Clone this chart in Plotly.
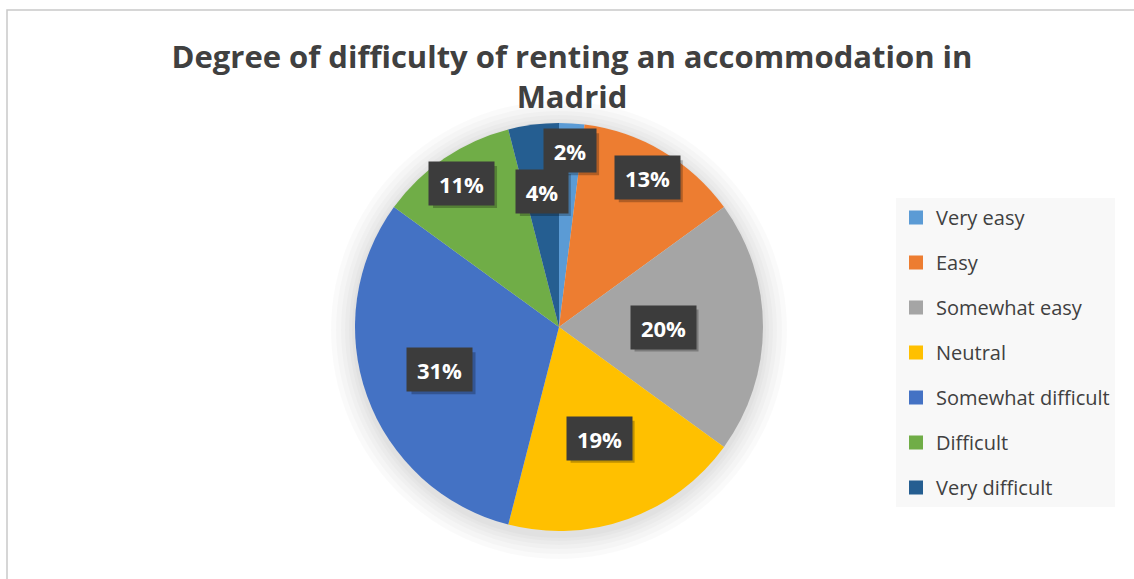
import math
import plotly.graph_objects as go

# ---- data ----
categories = ["Very easy", "Easy", "Somewhat easy", "Neutral",
              "Somewhat difficult", "Difficult", "Very difficult"]
percentages = [2, 13, 20, 19, 31, 11, 4]
colors = ["#5B9BD5", "#ED7D31", "#A5A5A5", "#FFC000",
          "#4472C4", "#70AD47", "#255E91"]
title_text = "Degree of difficulty of renting an accommodation in<br>Madrid"

# ---- layout constants (styling / placement) ----
W, H = 1134, 579
cx, cy, R = 559, 327, 204          # pie centre and radius in px
label_radius = [0.866, 0.85, 0.51, 0.58, 0.62, 0.85, 0.67]  # data label distance as fraction of R

fig = go.Figure()

fig.add_trace(go.Pie(
    labels=categories, values=percentages, sort=False, direction="clockwise",
    rotation=0, marker=dict(colors=colors, line=dict(width=0)),
    textinfo="none", hoverinfo="label+percent", showlegend=False,
    domain=dict(x=[(cx - R) / W, (cx + R) / W], y=[1 - (cy + R) / H, 1 - (cy - R) / H]),
))

# legend via dummy traces (to get Excel-like spacing)
for cat, col in zip(categories, colors):
    fig.add_trace(go.Scatter(
        x=[None], y=[None], mode="markers", name=cat, legendgroup=cat,
        marker=dict(symbol="square", size=14, color=col), showlegend=True,
    ))

# data labels: dark boxes at angle derived from cumulative values
total = sum(percentages)
cum = 0
annotations = []
shapes = []
for v, rf in zip(percentages, label_radius):
    mid = (cum + v / 2) / total * 2 * math.pi
    cum += v
    px = cx + rf * R * math.sin(mid)
    py = cy - rf * R * math.cos(mid)
    txt = f"{round(v / total * 100)}%"
    w = 50 if len(txt) == 2 else 63
    # drop shadow as a shape
    shapes.append(dict(type="rect", xref="paper", yref="paper", layer="above",
                       x0=(px - w / 2 + 3) / W, x1=(px + w / 2 + 4) / W,
                       y0=1 - (py + 41 / 2 + 4) / H, y1=1 - (py - 41 / 2 + 3) / H,
                       fillcolor="rgba(0,0,0,0.25)", line=dict(width=0)))
    annotations.append(dict(xref="paper", yref="paper", x=px / W, y=1 - py / H,
                            xanchor="center", yanchor="middle", showarrow=False,
                            width=w, height=41, text=txt, bgcolor="#3C3C3C",
                            font=dict(family="Open Sans", size=22, color="white", weight="bold")))

# soft glow around pie
for g in [24, 19, 14, 10, 6, 3]:
    r = R + g
    shapes.append(dict(type="circle", xref="paper", yref="paper", layer="below",
                       x0=(cx - r) / W, x1=(cx + r) / W,
                       y0=1 - (cy + r + 4) / H, y1=1 - (cy - r + 2) / H,
                       fillcolor="rgba(0,0,0,0.018)", line=dict(width=0)))
# chart border
shapes.append(dict(type="rect", xref="paper", yref="paper", layer="above",
                   x0=7 / W, x1=1.02, y0=-0.02, y1=1 - 10 / H,
                   line=dict(color="#C9C9C9", width=1.5), fillcolor="rgba(0,0,0,0)"))

fig.update_layout(
    width=W, height=H, margin=dict(l=0, r=0, t=0, b=0),
    paper_bgcolor="white", plot_bgcolor="white",
    title=dict(text=title_text, x=572 / W, xanchor="center", y=1 - 68 / H, yanchor="top",
               font=dict(family="Open Sans", size=31, color="#404040", weight="bold")),
    xaxis=dict(visible=False), yaxis=dict(visible=False),
    legend=dict(x=896 / W, y=1 - 198 / H, xanchor="left", yanchor="top",
                bgcolor="#F8F8F8", font=dict(family="Open Sans", size=20, color="#404040"),
                tracegroupgap=16, itemclick=False),
    annotations=annotations, shapes=shapes,
)

fig.write_html("out.html", config={"displayModeBar": False},
               post_script="document.body.style.margin='0';")
